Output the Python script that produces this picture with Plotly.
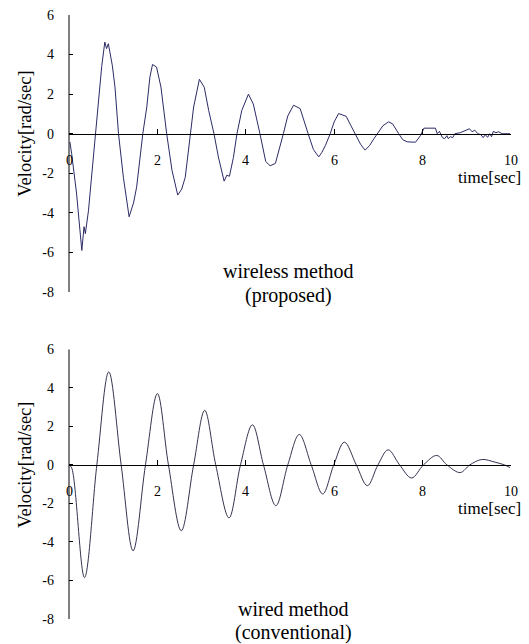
import plotly.graph_objects as go

# ---------------- data ----------------
t_wireless = [0.02, 0.06, 0.17, 0.29, 0.34, 0.37, 0.44, 0.51, 0.59, 0.64, 0.74, 0.81, 0.85, 0.89,
              0.98, 1.04, 1.12, 1.23, 1.36, 1.46, 1.53, 1.67, 1.76, 1.83, 1.89, 1.98, 2.08, 2.21,
              2.33, 2.46, 2.55, 2.63, 2.74, 2.82, 2.95, 3.06, 3.16, 3.28, 3.38, 3.51, 3.57, 3.63,
              3.72, 3.80, 3.91, 4.06, 4.17, 4.26, 4.32, 4.45, 4.55, 4.67, 4.76, 4.85, 4.95, 5.08,
              5.23, 5.32, 5.41, 5.53, 5.65, 5.72, 5.80, 5.91, 6.00, 6.10, 6.27, 6.38, 6.48, 6.60,
              6.70, 6.80, 6.90, 6.98, 7.10, 7.23, 7.32, 7.46, 7.55, 7.65, 7.84, 7.95, 8.03, 8.29,
              8.33, 8.38, 8.45, 8.50, 8.55, 8.58, 8.63, 8.68, 8.73, 8.85, 8.92, 9.00, 9.06, 9.12,
              9.18, 9.25, 9.32, 9.37, 9.42, 9.47, 9.52, 9.56, 9.60, 9.66, 9.72, 9.80, 9.98]
v_wireless = [-0.42, -1.0, -3.0, -5.9, -4.7, -5.05, -3.9, -2.2, 0.0, 1.35, 3.4, 4.63, 4.3, 4.55,
              3.45, 2.36, 0.0, -2.2, -4.2, -3.5, -2.7, 0.0, 1.35, 2.86, 3.5, 3.37, 2.36, 0.0,
              -1.85, -3.1, -2.8, -2.2, 0.0, 1.35, 2.75, 2.35, 1.18, 0.0, -1.18, -2.4, -2.1, -2.15,
              -1.2, 0.0, 1.18, 2.0, 1.5, 0.5, 0.0, -1.4, -1.62, -1.5, -0.8, 0.0, 0.9, 1.44,
              1.27, 0.6, 0.0, -0.8, -1.17, -0.95, -0.6, 0.0, 0.6, 1.02, 0.88, 0.4, 0.0, -0.55,
              -0.83, -0.6, -0.25, 0.0, 0.4, 0.6, 0.5, 0.0, -0.3, -0.41, -0.43, -0.1, 0.28, 0.28,
              0.0, 0.12, -0.2, -0.25, -0.1, -0.25, -0.15, -0.2, 0.0, 0.05, 0.12, 0.17, 0.25, 0.1,
              0.18, 0.0, -0.05, -0.2, -0.05, -0.18, 0.0, -0.15, 0.12, 0.05, 0.1, 0.0, 0.0]

t_wired = [0.0, 0.06, 0.35, 0.63, 0.90, 1.18, 1.45, 1.73, 2.00, 2.25, 2.54, 2.82, 3.07, 3.32,
           3.62, 3.88, 4.15, 4.40, 4.68, 4.95, 5.21, 5.48, 5.74, 5.99, 6.23, 6.50, 6.75, 6.99,
           7.22, 7.48, 7.75, 8.02, 8.32, 8.55, 8.85, 9.07, 9.34, 9.64, 9.85, 9.98]
v_wired = [0.0, -0.15, -5.85, 0.0, 4.83, 0.0, -4.46, 0.0, 3.7, 0.0, -3.42, 0.0, 2.83, 0.0,
           -2.75, 0.0, 2.08, 0.0, -2.12, 0.0, 1.58, 0.0, -1.51, 0.0, 1.18, 0.0, -1.08, 0.0,
           0.78, 0.0, -0.68, 0.0, 0.49, 0.0, -0.4, 0.0, 0.28, 0.14, 0.0, -0.14]

y_ticks = [6, 4, 2, 0, -2, -4, -6, -8]
y_labels = ["6", "4", "2", "0", "-2", "-4", "-6", "-8"]
x_ticks = [0, 2, 4, 6, 8, 10]
x_labels = ["0", "2", "4", "6", "8", "10"]

panel_titles = [("wireless method", "(proposed)"), ("wired method", "(conventional)")]

# ---------------- layout geometry ----------------
W, H = 529, 644
ML, MR, MT, MB = 69, 18, 15, 25
plot_h = H - MT - MB
def py(p):  # pixel row -> paper fraction
    return (H - MB - p) / plot_h

dom_top = [py(292), 1.0]
dom_bot = [0.0, py(349.3)]
YMIN, YMAX = -8, 6
def zero_pos(dom):
    return dom[0] + (0 - YMIN) / (YMAX - YMIN) * (dom[1] - dom[0])

SERIF = "Liberation Serif, Times New Roman, serif"

fig = go.Figure()
fig.add_trace(go.Scatter(x=t_wireless, y=v_wireless, mode="lines",
                         line=dict(color="#2b2b66", width=1), xaxis="x", yaxis="y", showlegend=False))
fig.add_trace(go.Scatter(x=t_wired, y=v_wired, mode="lines",
                         line=dict(color="#34344f", width=1, shape="spline", smoothing=1.0),
                         xaxis="x2", yaxis="y2", showlegend=False))

def xaxis_cfg(dom):
    return dict(range=[0, 10], domain=[0, 1], anchor="free", automargin=False,
                position=zero_pos(dom), showline=True, linecolor="black", linewidth=1,
                ticks="inside", ticklen=5, tickcolor="black", tickvals=x_ticks,
                showticklabels=False, showgrid=False, zeroline=False)

def yaxis_cfg(xname, dom):
    return dict(range=[YMIN, YMAX], domain=dom, anchor=xname, showline=False, automargin=False,
                ticks="inside", ticklen=4, tickcolor="black", tickvals=y_ticks,
                ticktext=y_labels, showgrid=False, zeroline=False,
                tickfont=dict(family=SERIF, size=14, color="black"), ticklabelstandoff=14)

fig.update_layout(
    width=W, height=H, margin=dict(l=ML, r=MR, t=MT, b=MB),
    paper_bgcolor="white", plot_bgcolor="white",
    xaxis=xaxis_cfg(dom_top), yaxis=yaxis_cfg("x", dom_top),
    xaxis2=xaxis_cfg(dom_bot), yaxis2=yaxis_cfg("x2", dom_bot),
)

shapes = []
annotations = []
for xref, yref in (("x", "y"), ("x2", "y2")):
    shapes.append(dict(type="line", xref="paper", yref=yref, x0=0, x1=0, y0=YMIN, y1=YMAX,
                       line=dict(color="black", width=1)))
    annotations.append(dict(text="Velocity[rad/sec]", textangle=-90, xref="paper", yref=yref,
                            x=0, xshift=-44, y=0, xanchor="center", yanchor="middle",
                            showarrow=False, font=dict(family=SERIF, size=18.5, color="black")))
    annotations.append(dict(text="time[sec]", xref="paper", yref=yref, x=1, xshift=12, y=0,
                            yshift=-44, xanchor="right", yanchor="middle", showarrow=False,
                            font=dict(family=SERIF, size=17, color="black")))
    for tv, tl in zip(x_ticks, x_labels):
        annotations.append(dict(text=tl, xref=xref, yref=yref, x=tv, y=0, yshift=-27,
                                xanchor="center", yanchor="middle", showarrow=False,
                                font=dict(family=SERIF, size=14, color="black")))

ann_rows = [(271, 295), (609, 632)]
ann_x = [(288 - ML) / (W - ML - MR), (293 - ML) / (W - ML - MR)]
for (l1, l2), (r1, r2), ax in zip(panel_titles, ann_rows, ann_x):
    annotations.append(dict(text=l1, xref="paper", yref="paper", x=ax, y=py(r1),
                            xanchor="center", yanchor="middle", showarrow=False, borderpad=0,
                            font=dict(family=SERIF, size=20, color="black")))
    annotations.append(dict(text=l2, xref="paper", yref="paper", x=ax, y=py(r2),
                            xanchor="center", yanchor="middle", showarrow=False, borderpad=0,
                            font=dict(family=SERIF, size=20, color="black")))

fig.update_layout(shapes=shapes, annotations=annotations)
fig.write_html("out.html", config={"displayModeBar": False},
               post_script="document.body.style.margin='0px';")
